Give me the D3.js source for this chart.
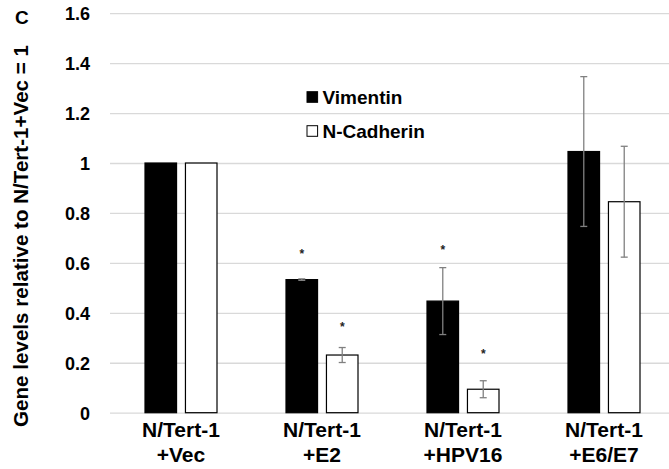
<!DOCTYPE html>
<html><head><meta charset="utf-8">
<script src="https://cdn.jsdelivr.net/npm/d3@7"></script>
<style>
html,body{margin:0;padding:0;background:#fff;}
svg{display:block;font-family:"Liberation Sans",Arial,sans-serif;}
</style></head>
<body><svg id="c" width="669" height="469"></svg>
<script>
const categories = ["N/Tert-1\n+Vec", "N/Tert-1\n+E2", "N/Tert-1\n+HPV16", "N/Tert-1\n+E6/E7"];
const seriesNames = ["Vimentin", "N-Cadherin"];
const vimentin = [1.0, 0.533, 0.447, 1.046];
const vimentinErr = [0, 0.003, 0.134, 0.30];
const ncadherin = [1.0, 0.231, 0.094, 0.845];
const ncadherinErr = [0, 0.03, 0.034, 0.222];
// significance asterisk levels (in y units); null = none
const vimentinStar = [null, 0.64, 0.654, null];
const ncadherinStar = [null, 0.347, 0.239, null];
const yTicks = [0, 0.2, 0.4, 0.6, 0.8, 1, 1.2, 1.4, 1.6];
const yTickLabels = ["0", "0.2", "0.4", "0.6", "0.8", "1", "1.2", "1.4", "1.6"];
const yLabel = "Gene levels relative to N/Tert-1+Vec = 1";
const panelLabel = "C";

const svg = d3.select("#c");
const y = d3.scaleLinear().domain([0, 1.6]).range([412.7, 13.2]);
const x0 = d3.scalePoint().domain(categories).range([110.5, 674.5]).padding(0.5);
const x1 = d3.scaleBand().domain(seriesNames).range([-36, 36]).paddingInner(0.22);

const fills = {"Vimentin": "#000", "N-Cadherin": "#fff"};
const series = [
  {name: "Vimentin", vals: vimentin, err: vimentinErr, star: vimentinStar},
  {name: "N-Cadherin", vals: ncadherin, err: ncadherinErr, star: ncadherinStar}
];

// gridlines
const yAxis = d3.axisLeft(y).tickValues(yTicks).tickSize(-(669 - 110)).tickFormat((d, i) => yTickLabels[i]).tickPadding(20);
const gy = svg.append("g").attr("transform", "translate(110,0)").call(yAxis);
gy.select(".domain").remove();
gy.selectAll(".tick line").attr("stroke", "#d9d9d9").attr("stroke-width", 1.3);
gy.selectAll(".tick text").attr("font-size", 18).attr("font-weight", "bold").attr("fill", "#000")
  .attr("font-family", "'Liberation Sans', Arial, sans-serif").attr("dy", "0.36em");

// bars
series.forEach(s => {
  const g = svg.append("g");
  categories.forEach((c, i) => {
    const bx = x0(c) + x1(s.name);
    const bw = x1.bandwidth();
    g.append("rect")
      .attr("x", bx).attr("y", y(s.vals[i]))
      .attr("width", bw).attr("height", y(0) - y(s.vals[i]))
      .attr("fill", fills[s.name]).attr("stroke", "#000").attr("stroke-width", 1.2);
  });
});
// error bars
series.forEach(s => {
  categories.forEach((c, i) => {
    if (!s.err[i]) return;
    const cx = x0(c) + x1(s.name) + x1.bandwidth() / 2;
    const top = y(s.vals[i] + s.err[i]), bot = y(s.vals[i] - s.err[i]);
    const g = svg.append("g").attr("stroke", "#808080").attr("stroke-width", 1.3);
    g.append("line").attr("x1", cx).attr("x2", cx).attr("y1", top).attr("y2", bot);
    g.append("line").attr("x1", cx - 3.5).attr("x2", cx + 3.5).attr("y1", top).attr("y2", top);
    g.append("line").attr("x1", cx - 3.5).attr("x2", cx + 3.5).attr("y1", bot).attr("y2", bot);
  });
});
// asterisks
series.forEach(s => {
  categories.forEach((c, i) => {
    if (s.star[i] == null) return;
    const cx = x0(c) + x1(s.name) + x1.bandwidth() / 2;
    svg.append("text").attr("x", cx).attr("y", y(s.star[i]) + 5)
      .attr("text-anchor", "middle").attr("font-size", 12).attr("font-weight", "bold").attr("fill", "#222")
      .text("*");
  });
});

// x labels
categories.forEach(c => {
  const lines = c.split("\n");
  const t = svg.append("text").attr("text-anchor", "middle").attr("font-size", 21).attr("font-weight", "bold").attr("fill", "#000");
  lines.forEach((l, k) => {
    t.append("tspan").attr("x", x0(c)).attr("y", 437 + k * 25).text(l);
  });
});

// legend
const leg = svg.append("g");
seriesNames.forEach((n, k) => {
  const ly = 97 + k * 34;
  leg.append("rect").attr("x", 307).attr("y", ly - 5.3).attr("width", 10.6).attr("height", 10.6)
    .attr("fill", fills[n]).attr("stroke", "#000").attr("stroke-width", 1);
  leg.append("text").attr("x", 322.5).attr("y", ly + 6.5).attr("font-size", 19).attr("font-weight", "bold").text(n);
});

// y label
svg.append("text").attr("transform", "translate(28,236) rotate(-90)").attr("text-anchor", "middle")
  .attr("font-size", 20.6).attr("font-weight", "bold").text(yLabel);
// panel label
svg.append("text").attr("x", 15).attr("y", 24).attr("font-size", 19).attr("font-weight", "bold").text(panelLabel);
</script></body></html>
